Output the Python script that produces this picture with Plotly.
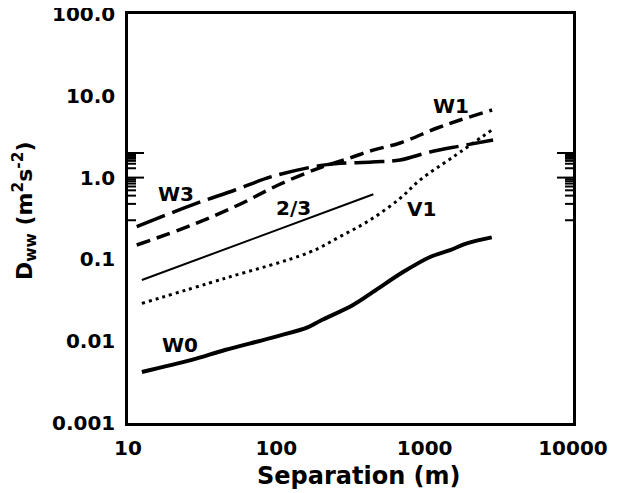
import math
import plotly.graph_objects as go

# ---- data ----
w0_x = [12.4, 26.9, 45, 98, 164, 197, 329, 449, 715, 1087, 1484, 1923, 2833]
w0_y = [0.0042, 0.0059, 0.0078, 0.0113, 0.0149, 0.0177, 0.0277, 0.040, 0.070, 0.107, 0.130, 0.157, 0.186]

slope_x = [12.4, 451]
slope_y = [0.056, 0.625]

v1_x = [12.4, 45, 165, 269, 428, 683, 931, 1563, 2878]
v1_y = [0.029, 0.0587, 0.121, 0.19, 0.303, 0.558, 0.935, 1.80, 3.89]

w3_x = [11.45, 26.9, 52.7, 93, 213, 442, 683, 1088, 1733, 2893]
w3_y = [0.251, 0.462, 0.705, 1.026, 1.43, 1.55, 1.64, 2.06, 2.43, 2.88]

w1_x = [11.45, 26.9, 55.4, 103, 192, 314, 449, 683, 1213, 1733, 2849]
w1_y = [0.150, 0.263, 0.462, 0.812, 1.30, 1.74, 2.17, 2.65, 4.04, 5.06, 6.70]

x_tickvals = [10, 100, 1000, 10000]
x_ticktext = ["10", "100", "1000", "10000"]
y_tickvals = [0.001, 0.01, 0.1, 1, 10, 100]
y_ticktext = ["0.001", "0.01", "0.1", "1.0", "10.0", "100.0"]

label_text = ["W3", "W1", "2/3", "V1", "W0"]
label_x = [21.1, 1507, 129.7, 946, 22.4]
label_y = [0.631, 7.5, 0.425, 0.413, 0.00899]

FONT = "DejaVu Sans"
X_RANGE = [1, 4]
Y_RANGE = [-3, 2]
MAJOR_LEN = 16
MINOR_LEN = 8


def minor_vals(lo, hi):
    return [m * 10 ** e for e in range(lo, hi) for m in range(2, 10)]


x_minor = minor_vals(1, 4)
y_minor = minor_vals(-3, 2)

fig = go.Figure()
fig.add_trace(go.Scatter(x=w0_x, y=w0_y, mode="lines",
                         line=dict(color="black", width=4, shape="spline")))
fig.add_trace(go.Scatter(x=slope_x, y=slope_y, mode="lines",
                         line=dict(color="black", width=2)))
fig.add_trace(go.Scatter(x=v1_x, y=v1_y, mode="lines",
                         line=dict(color="black", width=3, dash="3px,4px", shape="spline")))
fig.add_trace(go.Scatter(x=w3_x, y=w3_y, mode="lines",
                         line=dict(color="black", width=3.5, dash="30px,8px", shape="spline")))
fig.add_trace(go.Scatter(x=w1_x, y=w1_y, mode="lines",
                         line=dict(color="black", width=3.5, dash="14px,7px", shape="spline")))

for t, xv, yv in zip(label_text, label_x, label_y):
    fig.add_annotation(x=math.log10(xv), y=math.log10(yv), xref="x", yref="y",
                       text=t, showarrow=False,
                       font=dict(family=FONT, size=20, color="black", weight="bold"))

fig.add_annotation(x=0.519, y=-0.13, xref="paper", yref="paper",
                   xanchor="center", yanchor="middle",
                   text="Separation (m)", showarrow=False,
                   font=dict(family=FONT, size=24, color="black", weight="bold"))
fig.add_annotation(x=-0.232, y=0.518, xref="paper", yref="paper",
                   xanchor="center", yanchor="middle",
                   text="D<sub>ww</sub> (m<sup>2</sup>s<sup>-2</sup>)", showarrow=False,
                   textangle=-90,
                   font=dict(family=FONT, size=22, color="black", weight="bold"))

# inward tick marks on all four edges, placed through the axis scales
tick_line = dict(color="black", width=2)
shapes = []
for vals, length in ((x_tickvals, MAJOR_LEN), (x_minor, MINOR_LEN)):
    for v in vals:
        lv = math.log10(v)
        # bottom edge, pointing up
        shapes.append(dict(type="line", xref="x", yref="paper", ysizemode="pixel",
                           yanchor=0, x0=lv, x1=lv, y0=0, y1=length,
                           line=tick_line, layer="above"))
        # top edge, pointing down
        shapes.append(dict(type="line", xref="x", yref="paper", ysizemode="pixel",
                           yanchor=1, x0=lv, x1=lv, y0=0, y1=-length,
                           line=tick_line, layer="above"))
for vals, length in ((y_tickvals, MAJOR_LEN), (y_minor, MINOR_LEN)):
    for v in vals:
        lv = math.log10(v)
        # left edge, pointing right
        shapes.append(dict(type="line", xref="paper", yref="y", xsizemode="pixel",
                           xanchor=0, x0=0, x1=length, y0=lv, y1=lv,
                           line=tick_line, layer="above"))
        # right edge, pointing left
        shapes.append(dict(type="line", xref="paper", yref="y", xsizemode="pixel",
                           xanchor=1, x0=0, x1=-length, y0=lv, y1=lv,
                           line=tick_line, layer="above"))

main_axis = dict(
    type="log", automargin=False, showgrid=False, zeroline=False,
    showline=True, linecolor="black", linewidth=2.5, mirror=True,
    ticks="", ticklabeloverflow="allow",
    tickfont=dict(family=FONT, size=20, color="black", weight="bold"),
)

# page body adds an 8 px offset, so the figure is drawn 8 px smaller
fig.update_layout(
    width=617, height=485,
    margin=dict(l=120, r=52, t=6, b=70),
    paper_bgcolor="white", plot_bgcolor="white",
    showlegend=False,
    shapes=shapes,
    xaxis=dict(range=X_RANGE, tickvals=x_tickvals, ticktext=x_ticktext,
               ticklabelstandoff=5, **main_axis),
    yaxis=dict(range=Y_RANGE, tickvals=y_tickvals, ticktext=y_ticktext,
               ticklabelstandoff=6, **main_axis),
)

fig.write_html("out.html")
